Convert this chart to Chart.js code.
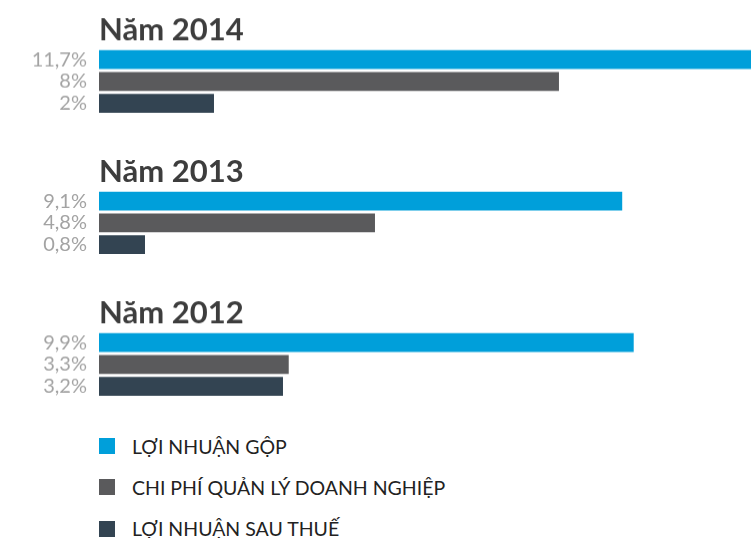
<!DOCTYPE html>
<html>
<head>
<meta charset="utf-8">
<script src="https://cdn.jsdelivr.net/npm/chart.js@4"></script>
<style>
  body { margin: 0; background: #fff; width: 751px; height: 538px; overflow: hidden; font-family: Lato, sans-serif; }
  .box { position: relative; width: 751px; height: 141.5px; }
  #legend { margin: 0; padding: 1px 0 0 99px; list-style: none; }
  #legend li { height: 41.3px; display: flex; align-items: center; font-size: 19.5px; color: #222; }
  #legend span { display: inline-block; width: 16px; height: 16px; margin-right: 17px; }
</style>
</head>
<body>
<div class="box"><canvas id="c0"></canvas></div>
<div class="box"><canvas id="c1"></canvas></div>
<div class="box"><canvas id="c2"></canvas></div>
<ul id="legend"></ul>
<script>
// data
var years = ['Năm 2014', 'Năm 2013', 'Năm 2012'];
var seriesNames = ['LỢI NHUẬN GỘP', 'CHI PHÍ QUẢN LÝ DOANH NGHIỆP', 'LỢI NHUẬN SAU THUẾ'];
var loiNhuanGop = [11.7, 9.1, 9.3];
var chiPhiQuanLy = [8, 4.8, 3.3];
var loiNhuanSauThue = [2, 0.8, 3.2];
var tickLabels = [
  ['11,7%', '8%', '2%'],
  ['9,1%', '4,8%', '0,8%'],
  ['9,9%', '3,3%', '3,2%']
];
var colors = ['#009fda', '#5a5a5c', '#334452'];

for (var i = 0; i < years.length; i++) {
  var ctx = document.getElementById('c' + i).getContext('2d');
  new Chart(ctx, {
    type: 'bar',
    data: {
      labels: tickLabels[i],
      datasets: [{
        data: [loiNhuanGop[i], chiPhiQuanLy[i], loiNhuanSauThue[i]],
        backgroundColor: colors,
        categoryPercentage: 1,
        barPercentage: 0.86
      }]
    },
    options: {
      indexAxis: 'y',
      responsive: true,
      maintainAspectRatio: false,
      animation: false,
      layout: { padding: { top: 0, right: 0, bottom: 28, left: 0 } },
      plugins: {
        legend: { display: false },
        tooltip: { enabled: false },
        title: {
          display: true,
          text: years[i],
          align: 'start',
          fullSize: false,
          color: '#3d3d3d',
          font: { family: 'Lato', size: 31, weight: 'bold' },
          padding: { top: 11, bottom: 0 }
        }
      },
      scales: {
        x: { display: false, min: 0, max: 11.34 },
        y: {
          grid: { display: false, drawTicks: false },
          border: { display: false },
          ticks: { color: '#a3a3a3', padding: 12, autoSkip: false, font: { family: 'Lato', size: 20 } },
          afterFit: function(scale) { scale.width = 99; }
        }
      }
    }
  });
}

var legend = document.getElementById('legend');
seriesNames.forEach(function(name, k) {
  var li = document.createElement('li');
  li.innerHTML = '<span style="background:' + colors[k] + '"></span>' + name;
  legend.appendChild(li);
});
</script>
</body>
</html>
